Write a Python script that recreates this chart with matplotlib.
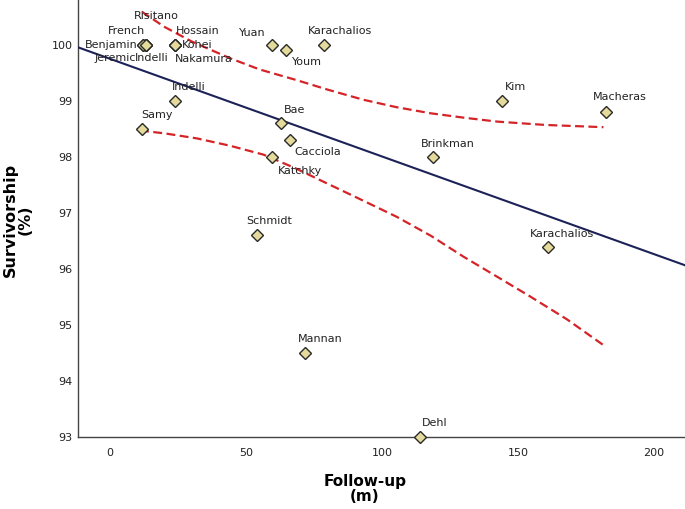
import matplotlib
matplotlib.use('Agg')
from matplotlib import pyplot as plt

# Studies: name, follow-up (months), survivorship (%)
names = ['Risitano', 'French', 'Benjamin', 'Jeremic', 'Indelli',
         'Hossain', 'Kohei', 'Nakamura', 'Yuan', 'Karachalios', 'Youm',
         'Indelli', 'Samy', 'Bae', 'Cacciola', 'Katchky', 'Schmidt',
         'Mannan', 'Dehl', 'Brinkman', 'Kim', 'Macheras', 'Karachalios']
follow_up = [13.2, 13.2, 12.1, 12.1, 13.2,
             23.9, 23.9, 23.9, 59.4, 78.7, 64.7,
             23.9, 11.7, 62.8, 66.2, 59.7, 53.9,
             71.7, 114.0, 118.9, 144.2, 182.2, 161.0]
survival = [100.0, 100.0, 100.0, 100.0, 100.0,
            100.0, 100.0, 100.0, 100.0, 100.0, 99.9,
            99.0, 98.5, 98.6, 98.3, 98.0, 96.6,
            94.5, 93.0, 98.0, 99.0, 98.8, 96.4]

# meta-regression line
fit_intercept = 99.75
fit_slope = -0.01743

# confidence band points
ci_upper_x = [11.7, 20.0, 30.0, 44.1, 55.0, 68.6, 80.0, 93.1, 105.0,
              117.6, 130.0, 142.2, 160.0, 181.4]
ci_upper_y = [100.59, 100.32, 100.06, 99.76, 99.56, 99.37, 99.2, 99.02,
              98.89, 98.78, 98.70, 98.63, 98.57, 98.53]
ci_lower_x = [11.0, 20.0, 31.9, 44.0, 56.4, 68.0, 80.9, 93.0, 105.4,
              118.0, 129.9, 142.0, 154.4, 168.0, 181.4]
ci_lower_y = [98.47, 98.42, 98.33, 98.20, 98.04, 97.80, 97.50, 97.22,
              96.93, 96.59, 96.22, 95.87, 95.51, 95.10, 94.64]

# label offsets in pixels (dx, dy, ha) - layout only
LABEL_POS = [(10, 29, 'center'), (-19, 14, 'center'), (-5, 0, 'right'),
             (-28, -13, 'center'), (6, -13, 'center'),
             (23, 14, 'center'), (7, 0, 'left'), (29, -14, 'center'),
             (-19, 12, 'center'), (16, 14, 'center'), (21, -12, 'center'),
             (14, 14, 'center'), (15, 14, 'center'), (14, 13, 'center'),
             (28, -12, 'center'), (28, -14, 'center'), (13, 14, 'center'),
             (15, 14, 'center'), (15, 14, 'center'), (14, 13, 'center'),
             (13, 14, 'center'), (14, 15, 'center'), (14, 13, 'center')]

XLIM = (-11.8, 211.4)
YLIM = (93.0, 100.8)

fig = plt.figure(figsize=(6.85, 5.09), dpi=100)
ax = fig.add_axes([78 / 685, 72 / 509, 1 - 78 / 685, 1 - 72 / 509])

ax.plot(ci_upper_x, ci_upper_y, color='#d42428', lw=1.6,
        dashes=(4, 2), zorder=2)
ax.plot(ci_lower_x, ci_lower_y, color='#d42428', lw=1.6,
        dashes=(4, 2), zorder=2)
ax.plot(list(XLIM), [fit_intercept + fit_slope * x for x in XLIM],
        color='#1c2258', lw=1.5, zorder=3)

ax.plot(follow_up, survival, linestyle='none', marker='D', ms=6.5,
        markerfacecolor='#e4da9c', markeredgecolor='#2a2a2a', mew=1.0,
        zorder=4, clip_on=False)

for name, x, y, (dx, dy, ha) in zip(names, follow_up, survival, LABEL_POS):
    ax.annotate(name, (x, y), xytext=(dx, dy), textcoords='offset pixels',
                ha=ha, va='center', fontsize=8, color='#222222', zorder=5,
                annotation_clip=False)

ax.set_xlim(*XLIM)
ax.set_ylim(*YLIM)
ax.set_xticks([0, 50, 100, 150, 200])
ax.set_yticks(range(93, 101))
ax.tick_params(axis='both', length=0, labelsize=8, colors='#222222')
ax.tick_params(axis='x', pad=8)
ax.tick_params(axis='y', pad=4)
for side in ('top', 'right'):
    ax.spines[side].set_visible(False)
for side in ('left', 'bottom'):
    ax.spines[side].set_color('#444444')
    ax.spines[side].set_linewidth(1.0)

fig.text(18 / 685, 1 - 220 / 509, 'Survivorship\n(%)', rotation=90,
         ha='center', va='center', fontsize=11.5, fontweight='bold',
         linespacing=1.0)
fig.text(365 / 685, 1 - 489 / 509, 'Follow-up\n(m)', ha='center',
         va='center', fontsize=11, fontweight='bold', linespacing=1.0)

fig.savefig('out.png', dpi=100)
